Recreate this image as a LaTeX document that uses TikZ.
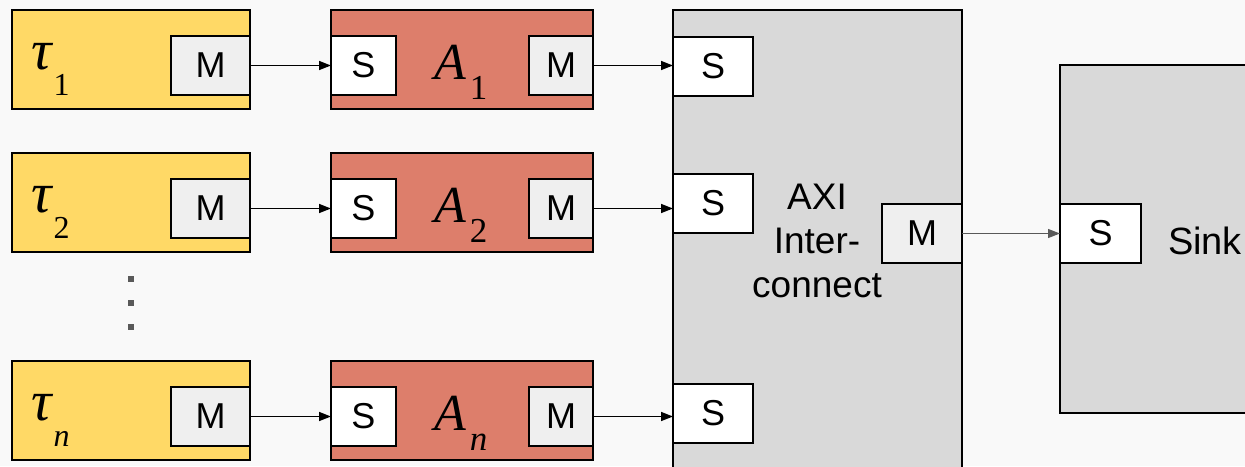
\documentclass[tikz,border=0pt]{standalone}
\usepackage{fontspec}
\setmainfont{Liberation Sans}
\newfontfamily\lblserif{Liberation Serif}
\usetikzlibrary{arrows.meta,positioning}
\definecolor{taskyellow}{HTML}{FFD966}
\definecolor{accred}{HTML}{DD7E6B}
\definecolor{busgray}{HTML}{D9D9D9}
\definecolor{portgray}{HTML}{EFEFEF}
\definecolor{dotgray}{HTML}{595959}
\definecolor{bgcol}{HTML}{F9F9F9}
\tikzset{>={Triangle[length=12pt,width=9pt]}}
\tikzset{
  blk/.style={draw=black,line width=1.5pt,inner sep=0pt,outer sep=0pt,anchor=north west},
  taskblk/.style={blk,fill=taskyellow,minimum width=238pt,minimum height=99pt},
  accblk/.style={blk,fill=accred,minimum width=262pt,minimum height=99pt},
  port/.style={draw=black,line width=1.5pt,inner sep=0pt,outer sep=0pt,minimum height=59pt,
    font=\fontsize{36}{36}\selectfont},
  mport/.style={port,fill=portgray},
  sport/.style={port,fill=white},
  link/.style={->,line width=1.5pt},
}
% italic letters with a lowered index
\newcommand{\tasklbl}[1]{{\lblserif\itshape\fontsize{57}{57}\selectfont τ}\kern2pt%
  \raisebox{-26pt}{\lblserif\fontsize{32}{32}\selectfont #1}}
\newcommand{\acclbl}[1]{{\lblserif\itshape\fontsize{52}{52}\selectfont A}\kern4pt%
  \raisebox{-20pt}{\lblserif\fontsize{35}{35}\selectfont #1}}

\begin{document}
\begin{tikzpicture}[x=1pt,y=-1pt]
\useasboundingbox (0,0) rectangle (1245,466);
\fill[bgcol] (0,0) rectangle (1245,466);
\clip (0,0) rectangle (1245,466);

% interconnect and sink
\node[blk,fill=busgray,minimum width=289pt,minimum height=480pt] (axi) at (673,10) {};
\node[blk,fill=busgray,minimum width=240pt,minimum height=348pt] (sink) at (1060,65) {};
\node[mport,minimum width=80pt,anchor=north east] (xm) at ([yshift=-194pt]axi.north east) {M};
\node[sport,minimum width=81pt,anchor=north west] (sk) at ([yshift=-139pt]sink.north west) {S};
\node[align=center,inner sep=0pt,font=\fontsize{37}{44}\selectfont] (axilbl) at (817,241) {AXI\\Inter-\\connect};
\node[anchor=base,inner sep=0pt,font=\fontsize{38}{38}\selectfont] (sinklbl) at (1205,254) {Sink};
\draw[link,dotgray,line width=1.2pt] (xm) -- (sk);

% one row per task: task, accelerator, interconnect slave port
\foreach \i/\top/\st/\sub in {1/10/37/1, 2/153/174/2, n/361/384/{\itshape n}} {
  \node[taskblk] (t\i) at (12,\top) {};
  \node[mport,minimum width=79pt,anchor=east] (tm\i) at ([yshift=-6pt]t\i.east) {M};
  \node[anchor=base west,inner sep=0pt] (tl\i) at ([xshift=19pt,yshift=-9.5pt]t\i.west) {\tasklbl{\sub}};
  \node[accblk] (a\i) at (331,\top) {};
  \node[sport,minimum width=65pt,anchor=west] (as\i) at ([yshift=-6pt]a\i.west) {S};
  \node[mport,minimum width=64pt,anchor=east] (am\i) at ([yshift=-6pt]a\i.east) {M};
  \node[anchor=base west,inner sep=0pt] (al\i) at ([xshift=103pt,yshift=-19.5pt]a\i.west) {\acclbl{\sub}};
  \node[sport,minimum width=80pt,anchor=north west] (xs\i) at (673,\st) {S};
  \draw[link] (tm\i) -- (as\i);
  \draw[link] (am\i.east) -- (am\i.east -| xs\i.west);
}

% dots between the rows
\foreach \y [count=\k] in {279,303,327}
  \node[fill=dotgray,minimum size=6pt,inner sep=0pt] (dot\k) at (131,\y) {};
\end{tikzpicture}
\end{document}
